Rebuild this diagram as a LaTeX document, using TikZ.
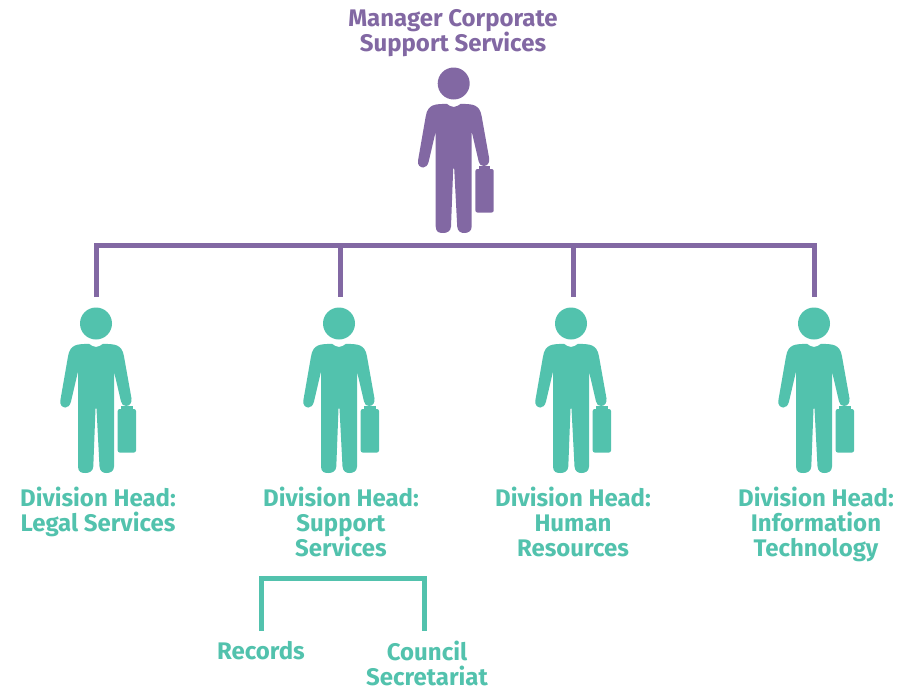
\documentclass[tikz,border=0pt]{standalone}
\usepackage{fontspec}
\setmainfont{Fira Sans}[BoldFont={Fira Sans Bold}]
\definecolor{mgr}{HTML}{8268A3}
\definecolor{dep}{HTML}{52C2AD}
\tikzset{
  x=1pt,y=-1pt,
  person/.pic={
    \fill (0,0) circle (16);
    % body, in reference pixels relative to the head centre
    \fill (0,23.5)
      .. controls (-3,23.5) and (-5,21.5) .. (-7,20.3)
      .. controls (-12,20.5) and (-18,20.5) .. (-21,22)
      .. controls (-24,23.5) and (-27,26) .. (-28,33)
      -- (-35.5,76)
      .. controls (-37,82) and (-33,84) .. (-30.5,84)
      .. controls (-28,84) and (-26,82) .. (-25,78)
      -- (-18,48)
      -- (-18,143)
      .. controls (-18,149) and (-14,149.5) .. (-10.5,149.5)
      .. controls (-7,149.5) and (-3,148) .. (-2.7,143)
      -- (-0.5,85) -- (0.5,85)
      -- (3.5,143)
      .. controls (4,148) and (7,149.5) .. (10.5,149.5)
      .. controls (14,149.5) and (18,148) .. (18,143)
      -- (18,48)
      -- (25,78)
      .. controls (26,81) and (27,82.5) .. (30,82.5)
      .. controls (34,82.5) and (36,79) .. (35.5,75)
      -- (28,33)
      .. controls (27,26) and (24,23.5) .. (21,22)
      .. controls (18,20.5) and (12,20.5) .. (7,20.3)
      .. controls (5,21.5) and (3,23.5) .. (0,23.5) -- cycle;
    % briefcase
    \fill[rounded corners=2] (21.7,85.5) rectangle (40,129);
    \fill (25,82.5) rectangle (36.5,86);
  },
  rail/.style={line width=5pt,line cap=butt,line join=miter},
  lbl/.style={font=\bfseries\fontsize{24}{24.8}\selectfont,align=center,inner sep=0pt,anchor=north},
}
\begin{document}
\begin{tikzpicture}
\useasboundingbox (0,0) rectangle (901,688);
\pic[mgr] at (453.7,83.5) {person};
\foreach \x in {96,339,571,814} \pic[dep] at (\x,323.5) {person};

\coordinate (railL) at (96,245);
\coordinate (railR) at (814,245);
\coordinate (railB) at (340,245);
\coordinate (railC) at (573,245);
\coordinate (dropA) at (96,297);
\coordinate (dropB) at (340,297);
\coordinate (dropC) at (573,297);
\coordinate (dropD) at (814,297);
\draw[rail,mgr] (dropA) -- (railL) -- (railR) -- (dropD);
\draw[rail,mgr] (railB) -- (dropB);
\draw[rail,mgr] (railC) -- (dropC);

\coordinate (subL) at (261,578);
\coordinate (subR) at (424.5,578);
\coordinate (recTop) at (261,631);
\coordinate (cclTop) at (424.5,631);
\draw[rail,dep] (recTop) -- (subL) -- (subR) -- (cclTop);

\node[lbl,text=mgr] (manager) at (453,9) {Manager Corporate\\Support Services};
\node[lbl,text=dep] (legal) at (98,487) {Division Head:\\Legal Services};
\node[lbl,text=dep] (support) at (341,487) {Division Head:\\Support\\Services};
\node[lbl,text=dep] (hr) at (573,487) {Division Head:\\Human\\Resources};
\node[lbl,text=dep] (it) at (816,487) {Division Head:\\Information\\Technology};
\node[lbl,text=dep] (records) at (261,641) {Records};
\node[lbl,text=dep] (council) at (427,641) {Council\\Secretariat};
\end{tikzpicture}
\end{document}
